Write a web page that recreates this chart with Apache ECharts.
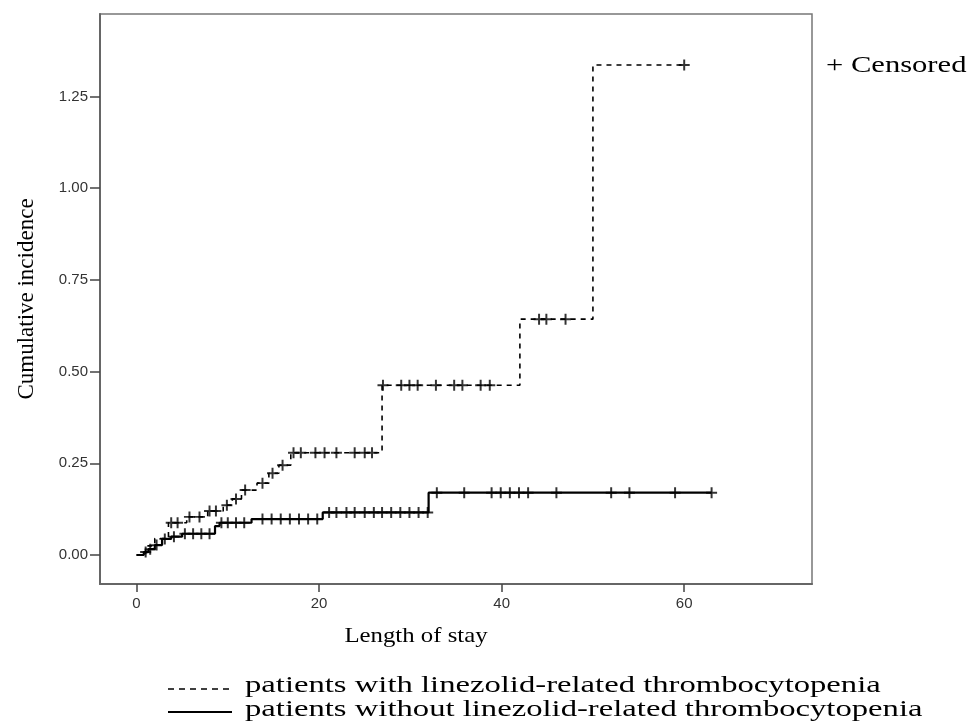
<!DOCTYPE html>
<html>
<head>
<meta charset="utf-8">
<script src="https://cdn.jsdelivr.net/npm/echarts@6/dist/echarts.min.js"></script>
<style>html,body{margin:0;padding:0;background:#fff;}#chart{width:969px;height:725px;}</style>
</head>
<body>
<div id="chart"></div>
<script>
// Step curve: patients with linezolid-related thrombocytopenia (dashed)
const withTimes  = [0, 1, 2, 3.5, 5.5, 7.8, 9.5, 10.5, 11.5, 13.2, 14.5, 15.6, 16.9, 26.9, 42, 50, 60];
const withValues = [0, 0.025, 0.045, 0.088, 0.104, 0.12, 0.136, 0.153, 0.177, 0.196, 0.223, 0.245, 0.279, 0.463, 0.643, 1.336, 1.336];
const withCensored = [3.8, 4.5, 5.8, 6.9, 8.0, 8.7, 9.9, 10.9, 11.9, 13.8, 14.9, 16.0, 17.2, 18.0, 19.6, 20.6, 21.9, 23.9, 25.0, 25.8, 27.0, 29.0, 29.9, 30.8, 32.8, 34.8, 35.7, 37.7, 38.7, 44.1, 44.9, 47.0, 60];

// Step curve: patients without linezolid-related thrombocytopenia (solid)
const withoutTimes  = [0, 0.8, 1.3, 2, 2.8, 3.8, 5, 8.6, 9.1, 12.6, 20.4, 32, 63];
const withoutValues = [0, 0.008, 0.016, 0.027, 0.044, 0.05, 0.058, 0.079, 0.088, 0.098, 0.116, 0.17, 0.17];
const withoutCensored = [1, 1.5, 2.2, 3.1, 4.1, 5.3, 6.2, 7.1, 8.0, 9.3, 10.0, 10.9, 11.8, 13.8, 14.8, 15.8, 16.8, 17.8, 18.8, 19.8, 21.1, 21.9, 23.0, 23.9, 25.0, 26.0, 26.9, 27.9, 28.9, 29.9, 30.9, 31.9, 32.9, 35.9, 38.9, 39.9, 40.9, 41.9, 42.9, 46.0, 52, 54, 59, 63];

const xTicks = [0, 20, 40, 60];
const yTicks = [0, 0.25, 0.5, 0.75, 1.0, 1.25];

const seriesNames = ['patients with linezolid-related thrombocytopenia', 'patients without linezolid-related thrombocytopenia'];
const xTitle = 'Length of stay';
const yTitle = 'Cumulative incidence';
const censorLabel = '+ Censored';

function pairs(ts, vs) { return ts.map((t, i) => [t, vs[i]]); }
function onCurve(ts, vs, t) {
  let v = vs[0];
  for (let i = 0; i < ts.length; i++) { if (ts[i] <= t) v = vs[i]; }
  return v;
}
function censorPts(c, ts, vs) { return c.map(t => [t, onCurve(ts, vs, t)]); }

const plusPath = 'path://M0,4.1H10V5.9H0Z M4.1,0H5.9V10H4.1Z';
const serif = 'Liberation Serif';
const sans = 'Liberation Sans';

const chart = echarts.init(document.getElementById('chart'), null, {renderer: 'canvas'});
chart.setOption({
  animation: false,
  backgroundColor: '#fff',
  grid: {left: 100, top: 14, right: 157, bottom: 141, containLabel: false, outerBoundsMode: 'none',
         show: true, borderColor: '#777', borderWidth: 1.5, backgroundColor: 'transparent'},
  xAxis: {
    type: 'value', min: -4, max: 74,
    axisLine: {show: true, onZero: false, lineStyle: {color: '#666', width: 2}},
    axisTick: {show: true, length: 8, lineStyle: {color: '#444', width: 1.5}, customValues: xTicks},
    axisLabel: {color: '#333', fontFamily: sans, fontSize: 15, margin: 12, customValues: xTicks},
    splitLine: {show: false}
  },
  yAxis: {
    type: 'value', min: -0.079, max: 1.475,
    name: yTitle, nameLocation: 'middle', nameGap: 62,
    nameTextStyle: {fontFamily: serif, fontSize: 23, color: '#000'},
    axisLine: {show: true, onZero: false, lineStyle: {color: '#666', width: 2}},
    axisTick: {show: true, length: 10, lineStyle: {color: '#444', width: 1.5}, customValues: yTicks},
    axisLabel: {color: '#333', fontFamily: sans, fontSize: 15, margin: 12, customValues: yTicks, formatter: v => v.toFixed(2)},
    splitLine: {show: false}
  },
  series: [
    {
      name: seriesNames[0], type: 'line', step: 'end', data: pairs(withTimes, withValues),
      symbol: 'none', lineStyle: {color: '#000', width: 1.6, type: [5, 5]}, itemStyle: {color: '#000'}, z: 2
    },
    {
      name: seriesNames[1], type: 'line', step: 'end', data: pairs(withoutTimes, withoutValues),
      symbol: 'none', lineStyle: {color: '#000', width: 2.2, type: 'solid'}, itemStyle: {color: '#000'}, z: 2
    },
    {
      name: 'Censored', type: 'scatter', symbol: plusPath, symbolSize: [11, 11],
      data: censorPts(withCensored, withTimes, withValues).concat(censorPts(withoutCensored, withoutTimes, withoutValues)),
      itemStyle: {color: '#000'}, z: 3, silent: true
    }
  ],
  graphic: [
    {type: 'text', x: 416, y: 636, scaleX: 1.18,
     style: {text: xTitle, font: '21px "Liberation Serif"', fill: '#000', textAlign: 'center', textVerticalAlign: 'middle'}},
    {type: 'text', x: 826, y: 66, scaleX: 1.33,
     style: {text: censorLabel, font: '23px "Liberation Serif"', fill: '#000', textAlign: 'left', textVerticalAlign: 'middle'}},
    {type: 'line', shape: {x1: 168, y1: 689, x2: 232, y2: 689}, style: {stroke: '#000', lineWidth: 1.6, lineDash: [6, 5]}},
    {type: 'line', shape: {x1: 168, y1: 712, x2: 232, y2: 712}, style: {stroke: '#000', lineWidth: 2.2}},
    {type: 'text', x: 245, y: 686, scaleX: 1.42,
     style: {text: seriesNames[0], font: '23px "Liberation Serif"', fill: '#000', textAlign: 'left', textVerticalAlign: 'middle'}},
    {type: 'text', x: 245, y: 710, scaleX: 1.42,
     style: {text: seriesNames[1], font: '23px "Liberation Serif"', fill: '#000', textAlign: 'left', textVerticalAlign: 'middle'}}
  ]
});
</script>
</body>
</html>
